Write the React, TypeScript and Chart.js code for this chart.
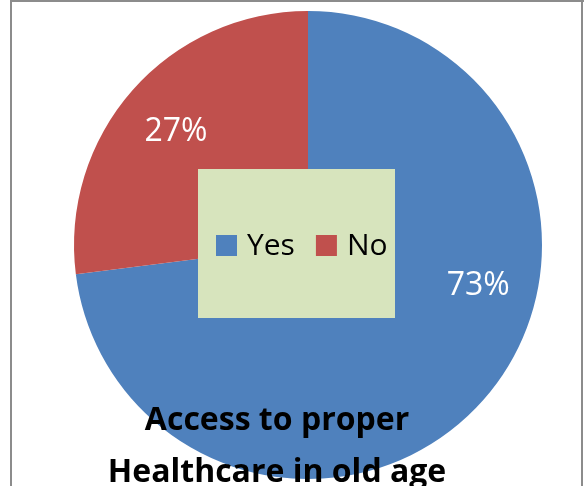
import React, { useEffect, useRef } from "react";
import { Chart, registerables } from "chart.js";

Chart.register(...registerables);

const categories = ["Yes", "No"];
const values = [73, 27];
const sliceColors = ["#4F81BD", "#C0504D"];
const percentLabels = ["73%", "27%"];
const titleLines = ["Access to proper", "Healthcare in old age"];

const FONT = "'Open Sans', 'Noto Sans', sans-serif";

// label placement: angle (deg, screen coords) and radius fraction
const labelPlacement = [
  { angle: 13.2, frac: 0.747 },
  { angle: 220.8, frac: 0.745 },
];

const framePlugin = {
  id: "frame",
  beforeDraw(chart: any) {
    const ctx = chart.ctx;
    ctx.save();
    ctx.fillStyle = "#ffffff";
    ctx.fillRect(0, 0, chart.width, chart.height);
    ctx.fillStyle = "#8c8c8c";
    ctx.fillRect(10, 0, 574, 2);
    ctx.fillRect(10, 0, 2, chart.height);
    ctx.fillRect(581, 0, 2, chart.height);
    ctx.restore();
  },
};

const overlayPlugin = {
  id: "overlay",
  afterDraw(chart: any) {
    const ctx = chart.ctx;
    const meta = chart.getDatasetMeta(0);
    const arc0 = meta.data[0];
    const cx = arc0.x;
    const cy = arc0.y;
    const r = arc0.outerRadius;
    ctx.save();
    // percentage labels
    ctx.fillStyle = "#ffffff";
    ctx.font = `32px ${FONT}`;
    ctx.textAlign = "center";
    ctx.textBaseline = "middle";
    meta.data.forEach((_: any, i: number) => {
      const p = labelPlacement[i];
      const a = (p.angle * Math.PI) / 180;
      ctx.fillText(percentLabels[i], cx + Math.cos(a) * r * p.frac, cy + Math.sin(a) * r * p.frac + 1);
    });
    // legend box
    const bx = cx - 110;
    const by = cy - 76;
    ctx.fillStyle = "#D7E4BD";
    ctx.fillRect(bx, by, 197, 149);
    ctx.font = `30px ${FONT}`;
    ctx.textAlign = "left";
    let x = bx + 18;
    const ly = cy + 1;
    categories.forEach((c, i) => {
      ctx.fillStyle = sliceColors[i];
      ctx.fillRect(x, ly - 11, 21, 21);
      ctx.fillStyle = "#000000";
      ctx.fillText(c, x + 31, ly);
      x += 31 + ctx.measureText(c).width + 21;
    });
    // title
    ctx.fillStyle = "#000000";
    ctx.font = `bold 32px ${FONT}`;
    ctx.textAlign = "center";
    ctx.textBaseline = "alphabetic";
    ctx.fillText(titleLines[0], cx - 31, 430);
    ctx.fillText(titleLines[1], cx - 31, 482);
    ctx.restore();
  },
};

export default function App() {
  const ref = useRef<HTMLCanvasElement>(null);
  useEffect(() => {
    document.body.style.margin = "0";
    const chart = new Chart(ref.current!, {
      type: "pie",
      data: {
        labels: categories,
        datasets: [
          {
            data: values,
            backgroundColor: sliceColors,
            borderWidth: 0,
          },
        ],
      },
      options: {
        animation: false,
        responsive: false,
        layout: { padding: { left: 74, right: 42, top: 11, bottom: 7 } },
        plugins: {
          legend: { display: false },
          title: { display: false },
          tooltip: { enabled: false },
        },
      },
      plugins: [framePlugin, overlayPlugin],
    });
    return () => chart.destroy();
  }, []);
  return (
    <div style={{ width: 584, height: 486 }}>
      <canvas ref={ref} width={584} height={486} style={{ display: "block" }} />
    </div>
  );
}
